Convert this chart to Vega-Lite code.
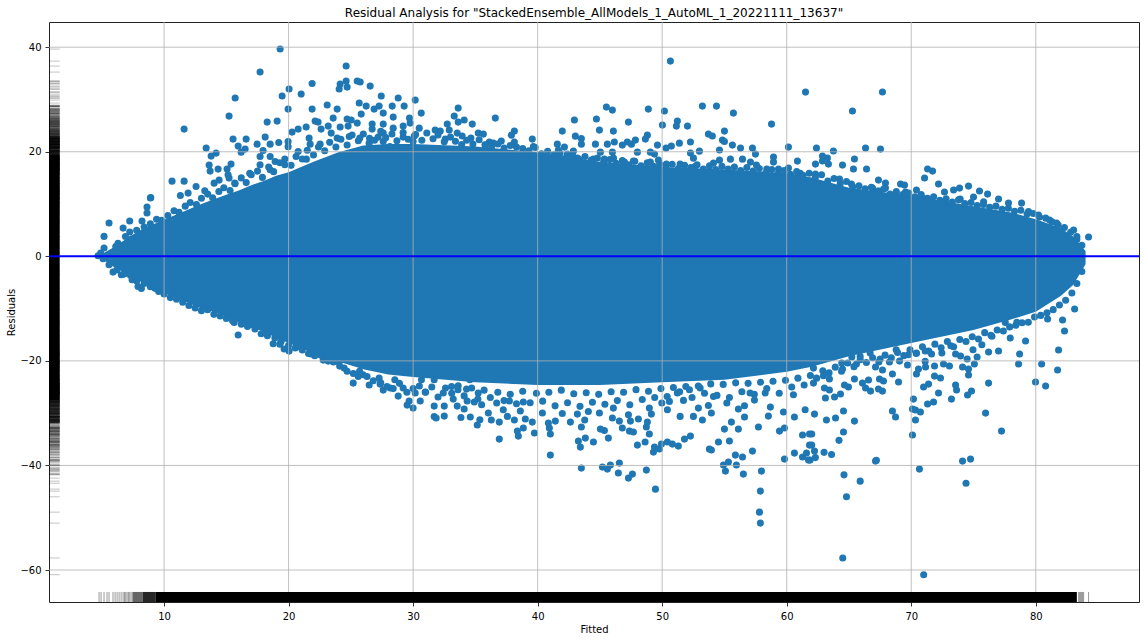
{"$schema":"https://vega.github.io/schema/vega-lite/v6.json","autosize":"none","padding":{"left":49,"top":22,"right":5,"bottom":38},"width":1090,"height":580,"background":"white",
"title":{"text":"Residual Analysis for \"StackedEnsemble_AllModels_1_AutoML_1_20221111_13637\"","font":"DejaVu Sans","fontSize":12,"fontWeight":"normal","color":"black","anchor":"middle","offset":2},
"config":{"view":{"stroke":"#222222","strokeWidth":1},"axis":{"labelFont":"DejaVu Sans","titleFont":"DejaVu Sans","labelFontSize":10,"titleFontSize":10,"titleFontWeight":"normal","labelColor":"black","titleColor":"black","tickColor":"black","tickSize":4,"tickWidth":0.8,"grid":false,"domain":false}},
"datasets":{
"band":[{"x":4.9,"t":0.3,"b":-0.3},{"x":6,"t":1.8,"b":-2.1},{"x":7,"t":3.4,"b":-3.4},{"x":8,"t":4.9,"b":-4.7},{"x":9,"t":6,"b":-5.8},{"x":10,"t":7,"b":-7},{"x":11,"t":8,"b":-8},{"x":12,"t":9,"b":-9},{"x":13,"t":10,"b":-10},{"x":14,"t":10.9,"b":-10.6},{"x":15,"t":11.8,"b":-11.6},{"x":16,"t":12.6,"b":-12.6},{"x":17,"t":13.6,"b":-13.6},{"x":18,"t":14.4,"b":-14.4},{"x":19,"t":15.4,"b":-15.6},{"x":20,"t":16.1,"b":-16.6},{"x":22,"t":18.1,"b":-18.6},{"x":24,"t":19.9,"b":-20.1},{"x":26,"t":21.2,"b":-21.6},{"x":28,"t":21.5,"b":-22.6},{"x":30,"t":21.5,"b":-23.1},{"x":35,"t":21,"b":-24.1},{"x":40,"t":19.9,"b":-24.6},{"x":45,"t":18.1,"b":-24.6},{"x":50,"t":17.1,"b":-24.1},{"x":55,"t":16.6,"b":-23.6},{"x":60,"t":15.9,"b":-22.1},{"x":62,"t":15.1,"b":-21.1},{"x":65,"t":13.1,"b":-19.1},{"x":70,"t":11.6,"b":-16.6},{"x":75,"t":9.6,"b":-14.1},{"x":78,"t":8.4,"b":-12.1},{"x":80,"t":7.1,"b":-10.6},{"x":82,"t":5.4,"b":-7.6},{"x":83,"t":3.8,"b":-5.5},{"x":84,"t":1,"b":-1.5}],
"rugx":[{"x":4.78},{"x":4.94},{"x":5.18},{"x":5.42},{"x":5.58},{"x":5.9},{"x":6.07},{"x":6.23},{"x":6.39},{"x":6.55},{"x":6.71},{"x":6.82},{"x":6.92},{"x":7.03},{"x":7.14},{"x":7.24},{"x":7.35},{"x":7.46},{"x":83.44},{"x":83.52},{"x":83.6},{"x":83.68},{"x":83.76},{"x":83.84},{"x":84.24}],
"pts":[
{"x":64.5,"y":-57.7},{"x":71,"y":-60.9},{"x":64.8,"y":-46},{"x":64.6,"y":-41.8},{"x":65.9,"y":-43},{"x":67.2,"y":-39},{"x":74.4,"y":-43.4},{"x":63,"y":-37.5},{"x":62.3,"y":-38.5},{"x":63.6,"y":-37.9},{"x":64.2,"y":-35.2},
{"x":19.32,"y":39.64},{"x":17.71,"y":35.24},{"x":15.71,"y":30.27},{"x":15.22,"y":26.82},{"x":11.61,"y":24.33},{"x":13.38,"y":20.7},{"x":14.18,"y":19.74},{"x":13.78,"y":19.17},{"x":13.62,"y":17.45},{"x":14.34,"y":16.68},{"x":13.7,"y":16.3},{"x":15.38,"y":17.64},{"x":15.06,"y":16.68},{"x":15.22,"y":14.96},{"x":14.42,"y":14.58},{"x":14.02,"y":14},{"x":10.64,"y":14.38},{"x":11.61,"y":14.38},{"x":12.57,"y":13.36},{"x":11.93,"y":12.09},{"x":11.31,"y":11.64},{"x":15.54,"y":22.42},{"x":15.95,"y":21.08},{"x":16.59,"y":22.42},{"x":16.51,"y":20.51},{"x":16.19,"y":19.93},{"x":17.47,"y":21.46},{"x":18.12,"y":22.8},{"x":18.52,"y":21.46},{"x":19.21,"y":21.78},{"x":18.28,"y":25.67},{"x":19.08,"y":25.86},{"x":19.48,"y":30.65},{"x":20.04,"y":31.99},{"x":21.01,"y":31.03},{"x":19.96,"y":28.16},{"x":21.89,"y":28.16},{"x":21.89,"y":33.07},{"x":24.62,"y":36.39},{"x":24.14,"y":32.94},{"x":24.62,"y":33.52},{"x":24.06,"y":31.99},{"x":24.7,"y":32.37},{"x":25.51,"y":33.52},{"x":25.75,"y":33.33},{"x":26.55,"y":32.56},{"x":25.67,"y":29.31},{"x":26.23,"y":28.73},{"x":25.83,"y":27.2},{"x":27.44,"y":30.65},{"x":28.8,"y":30.27},{"x":28.32,"y":28.73},{"x":29.28,"y":28.73},{"x":30.17,"y":29.88},{"x":30.65,"y":27.39},{"x":27.27,"y":28.73},{"x":26.87,"y":28.16},{"x":27.6,"y":27.39},{"x":28.4,"y":26.63},{"x":29.71,"y":26.44},{"x":23.1,"y":28.93},{"x":23.9,"y":28.16},{"x":23.58,"y":26.44},{"x":22.13,"y":25.86},{"x":22.37,"y":25.67},{"x":24.7,"y":26.25},{"x":25.03,"y":26.06},{"x":25.51,"y":25.48},{"x":23.18,"y":24.91},{"x":22.61,"y":24.33},{"x":21.41,"y":24.72},{"x":20.28,"y":23.76},{"x":20.77,"y":24.33},{"x":24.14,"y":24.72},{"x":24.78,"y":24.91},{"x":26.71,"y":25.29},{"x":26.71,"y":24.33},{"x":27.6,"y":25.29},{"x":28.4,"y":24.52},{"x":29.2,"y":24.91},{"x":29.76,"y":25.48},{"x":30.49,"y":24.52},{"x":33.62,"y":28.35},{"x":33.3,"y":26.82},{"x":33.62,"y":25.67},{"x":34.1,"y":26.06},{"x":34.75,"y":25.29},{"x":32.74,"y":25.29},{"x":32.9,"y":24.14},{"x":32.18,"y":23.95},{"x":31.77,"y":24.14},{"x":33.54,"y":23.57},{"x":33.94,"y":23},{"x":34.64,"y":22.61},{"x":35.23,"y":23.57},{"x":27.19,"y":22.8},{"x":27.6,"y":23.57},{"x":29.2,"y":22.8},{"x":30.09,"y":23},{"x":30,"y":21.97},{"x":32.58,"y":22.42},{"x":19.96,"y":21.97},{"x":19.96,"y":20.98},{"x":21.65,"y":22.61},{"x":21.73,"y":21.46},{"x":22.53,"y":21.46},{"x":23.42,"y":23.57},{"x":23.9,"y":22.61},{"x":24.87,"y":22.93},{"x":25.72,"y":22.61},{"x":26.47,"y":21.65},{"x":27.6,"y":21.97},{"x":28.13,"y":21},{"x":29.07,"y":20.7},{"x":20.77,"y":20.06},{"x":17.95,"y":20.25},{"x":17.71,"y":19.1},{"x":18.52,"y":19.1},{"x":18.92,"y":18.15},{"x":17.71,"y":17.51},{"x":18.52,"y":16.55},{"x":19.7,"y":17.51},{"x":21.43,"y":18.59},{"x":15.14,"y":15.6},{"x":13.27,"y":12.53},{"x":15.68,"y":14},{"x":16.88,"y":15.9},{"x":8.93,"y":11.26},
{"x":50.66,"y":37.34},{"x":61.51,"y":31.41},{"x":36.6,"y":26.44},{"x":45.52,"y":28.54},{"x":46,"y":27.97},{"x":48.89,"y":28.16},{"x":50.18,"y":27.78},{"x":53.23,"y":28.73},{"x":54.36,"y":28.73},{"x":55.72,"y":27.39},{"x":58.78,"y":25.29},{"x":42.95,"y":26.06},{"x":44.72,"y":26.25},{"x":47.29,"y":25.67},{"x":51.22,"y":25.86},{"x":51.14,"y":24.91},{"x":50.02,"y":25.1},{"x":52.03,"y":24.91},{"x":41.98,"y":23.95},{"x":44.96,"y":24.14},{"x":46.08,"y":23.95},{"x":38.13,"y":23.95},{"x":37.89,"y":23.18},{"x":35.64,"y":23.38},{"x":48.81,"y":23.18},{"x":48.65,"y":22.42},{"x":53.71,"y":23.38},{"x":54.03,"y":23},{"x":55,"y":23.95},{"x":54.84,"y":22.23},{"x":55,"y":21.97},{"x":43.03,"y":22.99},{"x":43.51,"y":22.55},{"x":43.51,"y":21.46},{"x":39.57,"y":22.42},{"x":37.08,"y":22.04},{"x":36.12,"y":21.85},{"x":36.44,"y":21.65},{"x":38.13,"y":21.85},{"x":41.58,"y":21.46},{"x":42.15,"y":20.89},{"x":44.64,"y":21.46},{"x":45.6,"y":21.46},{"x":46.16,"y":21.85},{"x":46.8,"y":21.27},{"x":47.2,"y":21.85},{"x":47.53,"y":21.46},{"x":47.85,"y":22.23},{"x":49.62,"y":21.27},{"x":50.74,"y":21.08},{"x":51.38,"y":21.65},{"x":52.27,"y":21.85},{"x":55.64,"y":21.27},{"x":56.29,"y":20.7},{"x":57.25,"y":20.7},{"x":60.14,"y":20.89},{"x":54.6,"y":20.32},{"x":52.99,"y":20.12},{"x":50.31,"y":20.7},{"x":48.01,"y":19.93},{"x":45.04,"y":19.93},{"x":42.87,"y":20.12},{"x":42.39,"y":19.55},{"x":41.66,"y":20.32},{"x":46,"y":19.93},{"x":49.05,"y":19.93},{"x":49.38,"y":19.55},{"x":52.27,"y":19.74},{"x":57.49,"y":19.55},{"x":58.94,"y":18.98},{"x":58.94,"y":18.02},{"x":60.86,"y":18.21},{"x":43.19,"y":18.78},{"x":44.48,"y":18.59},{"x":45.36,"y":18.59},{"x":46.09,"y":18.78},{"x":49.7,"y":18.4},{"x":52.51,"y":18.78},{"x":54.6,"y":18.4},{"x":55.48,"y":18.59},{"x":56.45,"y":18.59},{"x":47.69,"y":18.21},{"x":46.97,"y":18.02},{"x":49.05,"y":18.02},{"x":50.34,"y":17.64},{"x":51.44,"y":17.64},{"x":54.12,"y":17.83},{"x":57.09,"y":18.02},{"x":57.57,"y":17.45},{"x":60.14,"y":16.87},{"x":59.34,"y":16.68},{"x":58.4,"y":16.68},{"x":42.39,"y":17.83},{"x":45.01,"y":17.06},{"x":38.18,"y":18.78},{"x":39.66,"y":21},{"x":35.77,"y":21.34},{"x":52.64,"y":17.19},{"x":61.08,"y":15.9},
{"x":67.69,"y":31.42},{"x":65.28,"y":27.78},{"x":62.39,"y":20.71},{"x":63.75,"y":20.13},{"x":66.33,"y":20.71},{"x":67.53,"y":20.51},{"x":62.87,"y":19.17},{"x":63.27,"y":18.79},{"x":65.44,"y":18.6},{"x":62.31,"y":17.64},{"x":62.87,"y":18.22},{"x":63.35,"y":17.64},{"x":64.48,"y":17.45},{"x":65.36,"y":16.69},{"x":66.41,"y":16.69},{"x":71.31,"y":16.69},{"x":71.71,"y":16.3},{"x":71.07,"y":14.97},{"x":62.31,"y":15.73},{"x":64.24,"y":14.77},{"x":65.2,"y":13.82},{"x":67.37,"y":14.58},{"x":67.93,"y":14.01},{"x":66.89,"y":13.05},{"x":67.45,"y":12.48},{"x":67.93,"y":13.05},{"x":69.14,"y":13.82},{"x":69.46,"y":13.62},{"x":72.19,"y":13.82},{"x":74.6,"y":13.43},{"x":73.88,"y":13.05},{"x":73.4,"y":12.67},{"x":72.67,"y":12.29},{"x":75.48,"y":12.48},{"x":76.13,"y":11.9},{"x":75,"y":11.33},{"x":70.42,"y":12.67},{"x":69.54,"y":12.29},{"x":70.9,"y":11.14},{"x":65.92,"y":12.09},{"x":65.12,"y":11.9},{"x":77.01,"y":10.95},{"x":78.86,"y":10.18},{"x":77.81,"y":10.18},{"x":80.22,"y":7.89},{"x":81.11,"y":6.93},{"x":81.67,"y":6.36},{"x":83.04,"y":5.02},{"x":84.24,"y":3.68},{"x":79.42,"y":8.59},{"x":71.79,"y":10.18},{"x":72.73,"y":10.31},{"x":73.93,"y":10.95},{"x":75.81,"y":10.44},{"x":83.3,"y":3.8},
{"x":15.95,"y":-15.06},{"x":15.63,"y":-12.64},{"x":16.99,"y":-13.02},{"x":18.28,"y":-14.36},{"x":18.76,"y":-16.72},{"x":19.64,"y":-17.74},{"x":20.04,"y":-18.13},{"x":20.53,"y":-17.55},{"x":19.4,"y":-16.28},{"x":21.81,"y":-18.7},{"x":22.78,"y":-19.85},{"x":23.18,"y":-20.04},{"x":24.06,"y":-20.23},{"x":24.46,"y":-21.38},{"x":25.19,"y":-24.25},{"x":25.59,"y":-22.97},{"x":26.47,"y":-24.63},{"x":25.99,"y":-22.65},{"x":27.35,"y":-24.44},{"x":27.6,"y":-25.59},{"x":28.16,"y":-25.2},{"x":28.8,"y":-26.74},{"x":29.2,"y":-25.2},{"x":29.68,"y":-27.69},{"x":29.52,"y":-28.46},{"x":30,"y":-29.03},{"x":30.57,"y":-27.69},{"x":30.17,"y":-26.16},{"x":30.97,"y":-25.97},{"x":31.69,"y":-28.65},{"x":31.69,"y":-30.63},{"x":31.85,"y":-30.94},{"x":32.5,"y":-30.56},{"x":32.5,"y":-28.65},{"x":32.42,"y":-26.16},{"x":33.22,"y":-27.31},{"x":33.54,"y":-28.65},{"x":34.1,"y":-29.22},{"x":34.34,"y":-27.69},{"x":34.91,"y":-27.88},{"x":33.84,"y":-30.82},{"x":34.59,"y":-30.75},{"x":35.15,"y":-32.28},{"x":35.36,"y":-31.26},{"x":35.23,"y":-26.16},{"x":34.29,"y":-25.4},{"x":33.62,"y":-24.76},{"x":33.09,"y":-24.89},{"x":31.69,"y":-23.61},{"x":30.67,"y":-23.61},{"x":28.53,"y":-23.61},{"x":27.27,"y":-23.29},{"x":34.56,"y":-23.61},
{"x":36.92,"y":-34.96},{"x":38.45,"y":-34.39},{"x":38.37,"y":-33.43},{"x":38.85,"y":-32.85},{"x":39.74,"y":-33.81},{"x":39.57,"y":-31.71},{"x":39.01,"y":-31.13},{"x":36.92,"y":-31.71},{"x":36.28,"y":-31.32},{"x":38.13,"y":-31.32},{"x":37.57,"y":-30.62},{"x":36.04,"y":-29.98},{"x":37.24,"y":-29.35},{"x":36.71,"y":-28.07},{"x":37.73,"y":-27.69},{"x":38.61,"y":-29.6},{"x":38.85,"y":-27.88},{"x":35.5,"y":-28.39},{"x":41.02,"y":-38.02},{"x":41.02,"y":-34},{"x":40.94,"y":-32.85},{"x":40.86,"y":-31.9},{"x":41.42,"y":-31.52},{"x":40.38,"y":-29.98},{"x":42.63,"y":-31.71},{"x":41.98,"y":-30.05},{"x":43.19,"y":-30.18},{"x":43.51,"y":-32.66},{"x":43.78,"y":-31.32},{"x":44.07,"y":-29.67},{"x":43.27,"y":-35.34},{"x":43.43,"y":-36.49},{"x":43.83,"y":-34.77},{"x":44.48,"y":-35.53},{"x":45.04,"y":-33.05},{"x":45.36,"y":-33.3},{"x":45.68,"y":-34.77},{"x":43.51,"y":-40.51},{"x":45.2,"y":-40.32},{"x":45.6,"y":-40.7},{"x":45.84,"y":-39.93},{"x":46.56,"y":-39.55},{"x":46.48,"y":-41.46},{"x":47.29,"y":-42.42},{"x":47.61,"y":-41.66},{"x":48.73,"y":-40.89},{"x":49.46,"y":-44.53},{"x":48.01,"y":-36.11},{"x":48.63,"y":-35.53},{"x":49.3,"y":-37.45},{"x":49.38,"y":-36.49},{"x":49.78,"y":-36.87},{"x":49.94,"y":-35.92},{"x":50.42,"y":-35.53},{"x":50.82,"y":-35.92},{"x":51.3,"y":-36.3},{"x":51.79,"y":-34.96},{"x":52.27,"y":-34.39},{"x":48.97,"y":-34},{"x":47.37,"y":-33.43},{"x":47.69,"y":-33.62},{"x":46.8,"y":-32.85},{"x":48.73,"y":-32.66},{"x":48.81,"y":-31.71},{"x":48.09,"y":-31.13},{"x":47.45,"y":-31.52},{"x":46.56,"y":-31.52},{"x":46,"y":-30.94},{"x":49.13,"y":-30.18},{"x":48.97,"y":-29.03},{"x":47.29,"y":-30.3},{"x":46.08,"y":-29.03},{"x":44.96,"y":-29.98},{"x":49.97,"y":-28.07},{"x":50.42,"y":-29.35},{"x":51.44,"y":-30.62},{"x":52.51,"y":-30.62},{"x":53.23,"y":-31.32},{"x":52.91,"y":-29.03},{"x":53.95,"y":-29.98},{"x":53.71,"y":-28.52},{"x":51.71,"y":-27.56},{"x":51.22,"y":-26.16},{"x":52.19,"y":-25.52},{"x":50.58,"y":-27.75},{"x":55.56,"y":-31.71},{"x":55,"y":-33.05},{"x":56.12,"y":-33.05},{"x":57.73,"y":-32.66},{"x":56.61,"y":-30.75},{"x":56.12,"y":-29.22},{"x":56.61,"y":-28.58},{"x":58.53,"y":-30.56},{"x":59.42,"y":-33.43},{"x":59.82,"y":-32.85},{"x":60.62,"y":-30.75},{"x":61.27,"y":-34.19},{"x":61.83,"y":-34},{"x":61.83,"y":-36.11},{"x":53.79,"y":-36.87},{"x":53.95,"y":-37.06},{"x":54.52,"y":-35.53},{"x":55.4,"y":-35.34},{"x":57.25,"y":-37.26},{"x":55.88,"y":-38.02},{"x":56.45,"y":-38.4},{"x":55.32,"y":-39.36},{"x":54.92,"y":-39.93},{"x":55.96,"y":-39.93},{"x":55.08,"y":-41.08},{"x":56.52,"y":-41.66},{"x":57.97,"y":-41.08},{"x":57.89,"y":-44.91},{"x":57.81,"y":-48.93},{"x":57.89,"y":-51.03},{"x":59.82,"y":-38.79},{"x":60.62,"y":-37.64},{"x":61.27,"y":-38.4},{"x":61.59,"y":-37.64},{"x":61.75,"y":-38.98},{"x":57.41,"y":-27.5},{"x":58.69,"y":-28.84},{"x":59.74,"y":-29.79},{"x":61.48,"y":-29.35},{"x":55.19,"y":-28.07},{"x":54.12,"y":-26.8},{"x":53.05,"y":-25.2},{"x":57.06,"y":-26.16},{"x":58.27,"y":-26.16},{"x":60.54,"y":-26.48},
{"x":67.13,"y":-39.17},{"x":70.66,"y":-40.7},{"x":70.1,"y":-34.19},{"x":64.56,"y":-33.62},{"x":62.01,"y":-34},{"x":62.01,"y":-36.11},{"x":62.23,"y":-37.26},{"x":61.88,"y":-38.98},{"x":74.12,"y":-39.17},{"x":74.76,"y":-38.79},{"x":77.25,"y":-33.43},{"x":75.97,"y":-29.99},{"x":62.23,"y":-30.18},{"x":63.19,"y":-31.32},{"x":63.92,"y":-30.94},{"x":64.56,"y":-29.6},{"x":65.44,"y":-31.52},{"x":68.49,"y":-29.6},{"x":68.74,"y":-30.75},{"x":70.34,"y":-31.32},{"x":70.1,"y":-29.22},{"x":70.34,"y":-29.41},{"x":70.74,"y":-29.79},{"x":70.18,"y":-27.31},{"x":71.31,"y":-28.26},{"x":71.79,"y":-27.88},{"x":73.23,"y":-27.31},{"x":74.52,"y":-26.54},{"x":74.84,"y":-25.78},{"x":76.21,"y":-24.25},{"x":79.98,"y":-24.05},{"x":80.79,"y":-24.82},{"x":81.75,"y":-21.76},{"x":81.83,"y":-17.93},{"x":80.47,"y":-20.61},{"x":78.62,"y":-20.61},{"x":78.7,"y":-18.7},{"x":77.01,"y":-18.12},{"x":76.21,"y":-18.31},{"x":79.18,"y":-16.21},{"x":82.31,"y":-14.3},{"x":80.95,"y":-12},{"x":82.15,"y":-12.19},{"x":83.12,"y":-10.09},{"x":63.11,"y":-27.11},{"x":63.84,"y":-26.92},{"x":64.32,"y":-26.35},{"x":63.03,"y":-25.2},{"x":63.43,"y":-25.58},{"x":64.64,"y":-24.63},{"x":64.96,"y":-25.01},{"x":62.15,"y":-24.25},{"x":63.43,"y":-23.48},{"x":62.95,"y":-22.84},{"x":65.44,"y":-23.48},{"x":66.08,"y":-24.25},{"x":66.57,"y":-23.67},{"x":66.33,"y":-25.2},{"x":66.73,"y":-25.78},{"x":67.69,"y":-25.78},{"x":67.37,"y":-25.39},{"x":67.45,"y":-23.48},{"x":67.77,"y":-23.86},{"x":68.98,"y":-24.05},{"x":68.49,"y":-22.52},{"x":67.69,"y":-21.76},{"x":67.13,"y":-21.18},{"x":69.7,"y":-20.8},{"x":70.42,"y":-22.52},{"x":70.58,"y":-21.57},{"x":71.15,"y":-21.18},{"x":71.87,"y":-20.99},{"x":71.87,"y":-22.91},{"x":72.35,"y":-23.29},{"x":70.99,"y":-25.01},{"x":71.39,"y":-24.44},{"x":72.19,"y":-26.16},{"x":73.56,"y":-24.63},{"x":73.64,"y":-25.58},{"x":74.6,"y":-22.71},{"x":74.6,"y":-21.57},{"x":74.12,"y":-21.18},{"x":73.07,"y":-20.99},{"x":72.59,"y":-20.61},{"x":75.07,"y":-20.61},{"x":74.49,"y":-19.65},{"x":75.29,"y":-19.27},{"x":73.56,"y":-18.7},{"x":73.96,"y":-19.08},{"x":64.48,"y":-21.57},{"x":62.15,"y":-21.38},{"x":65.6,"y":-20.61},{"x":69.06,"y":-20.04},{"x":68.25,"y":-20.23},{"x":71.12,"y":-20.1},{"x":71.63,"y":-18.7},{"x":71.12,"y":-18.12},{"x":70.42,"y":-18.5},{"x":69.78,"y":-18.82},{"x":68.79,"y":-17.87},{"x":72.46,"y":-18.5},{"x":74.96,"y":-17.87},{"x":75.67,"y":-16.91},{"x":77.95,"y":-15.63},{"x":76.48,"y":-15.3},{"x":78.48,"y":-12.64},{"x":77.55,"y":-12.64},{"x":65.23,"y":-19.27},{"x":66.7,"y":-18.5},{"x":62.9,"y":-19.78},{"x":64.42,"y":-20.42},{"x":65.9,"y":-19.14},{"x":67.5,"y":-19.65},{"x":73.18,"y":-17.1},
{"x":8.9,"y":11.14},{"x":8.63,"y":9.42},{"x":8.63,"y":8.27},{"x":5.58,"y":6.36},{"x":5.18,"y":3.81},{"x":6.71,"y":5.4},{"x":7.24,"y":6.74},{"x":7.24,"y":4.64},{"x":8.23,"y":6.74},{"x":6.12,"y":1.89},{"x":5.18,"y":1.58},{"x":4.91,"y":0.62},{"x":4.7,"y":0.11},{"x":5.1,"y":-0.47},{"x":5.58,"y":-1.61},{"x":5.9,"y":-3.02},{"x":6.57,"y":-3.53},{"x":7.43,"y":-4.48},{"x":7.91,"y":-5.76},{"x":8.18,"y":-6.14},{"x":9.25,"y":-6.08},{"x":9.57,"y":-6.72},
{"x":6.3,"y":2.5},{"x":6.9,"y":3.8},{"x":7.4,"y":3.3},{"x":7.8,"y":5},{"x":8.4,"y":5.6},{"x":8.9,"y":6.2},{"x":9.4,"y":7.1},{"x":9.8,"y":6.9},{"x":10.3,"y":7.8},{"x":10.8,"y":8.7},{"x":11.2,"y":8.4},{"x":11.7,"y":9.6},{"x":12.1,"y":10.3},{"x":12.6,"y":9.9},{"x":13,"y":11.1},{"x":13.5,"y":11.9},{"x":13.9,"y":11.2},{"x":14.4,"y":12.4},{"x":14.8,"y":13.1},{"x":15.3,"y":12.6},{"x":15.7,"y":13.9},{"x":16.2,"y":15},{"x":16.6,"y":14.1},{"x":17,"y":15.6},{"x":17.5,"y":16.3},{"x":17.9,"y":15.1},{"x":18.4,"y":17.1},{"x":18.8,"y":16.2},{"x":19.3,"y":17.9},{"x":19.7,"y":18.6},{"x":20.2,"y":17.4},{"x":20.6,"y":19.1},{"x":21.1,"y":18.6},{"x":21.5,"y":20.3},{"x":22,"y":19.4},{"x":22.4,"y":20.9},{"x":22.9,"y":20.2},{"x":23.3,"y":21.8},{"x":23.8,"y":20.9},{"x":24.2,"y":22.4},{"x":24.7,"y":21.3},{"x":25.1,"y":23.2},{"x":25.6,"y":22.1},{"x":26,"y":23.4},{"x":26.5,"y":22.6},{"x":26.9,"y":22.2},{"x":27.4,"y":23.9},{"x":27.8,"y":22.7},{"x":28.3,"y":23.4},{"x":28.7,"y":22.1},{"x":29.2,"y":23.7},{"x":29.6,"y":22.4},{"x":30.2,"y":23.3},{"x":30.7,"y":22.2},{"x":31.1,"y":23.6},{"x":31.6,"y":22.5},{"x":32,"y":23.2},{"x":32.5,"y":21.9},{"x":33,"y":22.8},{"x":33.4,"y":22},{"x":33.9,"y":21.4},{"x":34.3,"y":22.2},{"x":34.8,"y":21.5},{"x":35.3,"y":22.3},{"x":35.8,"y":21.3},{"x":36.3,"y":20.9},{"x":36.8,"y":21.5},{"x":37.3,"y":20.7},{"x":37.8,"y":21.2},{"x":38.3,"y":20.9},{"x":38.8,"y":20.6},{"x":39.3,"y":20.2},{"x":39.8,"y":20.8},{"x":40.3,"y":19.6},{"x":40.8,"y":20.1},{"x":41.3,"y":19.4},{"x":41.8,"y":19.7},{"x":42.3,"y":18.9},{"x":42.8,"y":19.3},{"x":43.3,"y":18.6},{"x":43.8,"y":19.1},{"x":44.3,"y":18.4},{"x":44.8,"y":18.8},{"x":45.3,"y":18.1},{"x":45.8,"y":18.5},{"x":46.3,"y":17.8},{"x":46.8,"y":18.3},{"x":47.3,"y":17.5},{"x":47.8,"y":18.2},{"x":48.3,"y":17.3},{"x":48.8,"y":17.9},{"x":49.3,"y":17.2},{"x":49.8,"y":17.6},{"x":50.3,"y":16.9},{"x":50.8,"y":17.6},{"x":51.3,"y":16.8},{"x":51.8,"y":17.4},{"x":52.3,"y":17},{"x":52.8,"y":17.5},{"x":53.3,"y":16.7},{"x":53.8,"y":17.3},{"x":54.3,"y":16.6},{"x":54.8,"y":17.2},{"x":55.3,"y":16.7},{"x":55.8,"y":17.1},{"x":56.3,"y":16.4},{"x":56.8,"y":17},{"x":57.3,"y":16.3},{"x":57.8,"y":16.8},{"x":58.3,"y":15.9},{"x":58.8,"y":16.6},{"x":59.3,"y":15.8},{"x":59.8,"y":16.4},{"x":60.3,"y":15.7},{"x":60.8,"y":16.2},{"x":61.3,"y":15.5},{"x":61.8,"y":15.9},{"x":62.3,"y":15.1},{"x":62.8,"y":15.6},{"x":63.3,"y":14.4},{"x":63.8,"y":14.9},{"x":64.3,"y":13.9},{"x":64.8,"y":14.3},{"x":65.3,"y":13.3},{"x":65.8,"y":13.5},{"x":66.3,"y":12.9},{"x":66.8,"y":13.2},{"x":67.3,"y":12.5},{"x":67.8,"y":12.9},{"x":68.3,"y":11.9},{"x":68.8,"y":12.4},{"x":69.3,"y":11.8},{"x":69.8,"y":12.1},{"x":70.3,"y":11.4},{"x":70.8,"y":11.8},{"x":71.3,"y":11.1},{"x":71.8,"y":11.4},{"x":72.3,"y":10.7},{"x":72.8,"y":11},{"x":73.3,"y":10.4},{"x":73.8,"y":10.8},{"x":74.3,"y":10.1},{"x":74.8,"y":10.3},{"x":75.3,"y":9.7},{"x":75.8,"y":9.9},{"x":76.3,"y":9.4},{"x":76.8,"y":9.6},{"x":77.3,"y":9},{"x":77.8,"y":9.2},{"x":78.3,"y":8.6},{"x":78.8,"y":8.8},{"x":79.3,"y":8.1},{"x":79.8,"y":8.2},{"x":80.3,"y":7.5},{"x":80.8,"y":7.3},{"x":81.3,"y":6.6},{"x":81.8,"y":6},{"x":82.3,"y":5.5},{"x":82.8,"y":4.6},{"x":83.3,"y":3.2},{"x":83.7,"y":2.1},
{"x":6.2,"y":-2.6},{"x":6.8,"y":-3.4},{"x":7.3,"y":-3.6},{"x":7.8,"y":-4.7},{"x":8.4,"y":-5.2},{"x":8.9,"y":-5.8},{"x":9.4,"y":-6.2},{"x":10,"y":-7.2},{"x":10.5,"y":-7.9},{"x":11,"y":-8.2},{"x":11.5,"y":-8.8},{"x":12,"y":-9.4},{"x":12.5,"y":-9.9},{"x":13,"y":-10.4},{"x":13.5,"y":-10.2},{"x":14,"y":-11.1},{"x":14.5,"y":-11.4},{"x":15,"y":-11.9},{"x":15.5,"y":-12.3},{"x":16.2,"y":-13},{"x":16.7,"y":-13.4},{"x":17.3,"y":-13.9},{"x":17.8,"y":-14.8},{"x":18.3,"y":-15.2},{"x":18.9,"y":-15.6},{"x":19.3,"y":-16.8},{"x":20,"y":-17},{"x":20.6,"y":-17.4},{"x":21.1,"y":-17.9},{"x":21.6,"y":-18.6},{"x":22.1,"y":-19},{"x":22.6,"y":-18.9},{"x":23.1,"y":-19.8},{"x":23.6,"y":-20.2},{"x":24.1,"y":-21},{"x":24.7,"y":-22},{"x":25.2,"y":-22.4},{"x":25.7,"y":-22},{"x":26.3,"y":-23},{"x":26.8,"y":-23.8},{"x":27.4,"y":-24.2},{"x":27.9,"y":-24.9},{"x":28.4,"y":-25.3},{"x":28.9,"y":-24.3},{"x":29.5,"y":-26},{"x":30,"y":-25.3},{"x":30.5,"y":-24.8},{"x":31,"y":-26},{"x":31.5,"y":-25},{"x":32,"y":-26.9},{"x":32.6,"y":-25.2},{"x":33.1,"y":-26.2},{"x":33.6,"y":-25.5},{"x":34.1,"y":-26.7},{"x":34.7,"y":-25.2},{"x":35.2,"y":-27.3},{"x":35.7,"y":-25.6},{"x":36.2,"y":-27},{"x":36.8,"y":-26},{"x":37.3,"y":-27.6},{"x":37.8,"y":-26.4},{"x":38.3,"y":-28.2},{"x":38.8,"y":-25.8},{"x":39.4,"y":-28},{"x":39.9,"y":-26.2},{"x":40.4,"y":-27.7},{"x":40.9,"y":-26},{"x":41.4,"y":-28.6},{"x":41.9,"y":-25.6},{"x":42.4,"y":-28},{"x":42.9,"y":-26.3},{"x":43.4,"y":-28.7},{"x":43.9,"y":-26.1},{"x":44.4,"y":-27.9},{"x":44.9,"y":-26.4},{"x":45.4,"y":-28.3},{"x":45.9,"y":-25.9},{"x":46.4,"y":-27.6},{"x":46.9,"y":-26},{"x":47.4,"y":-28.4},{"x":47.9,"y":-25.5},{"x":48.4,"y":-27.4},{"x":48.9,"y":-25.8},{"x":49.4,"y":-27},{"x":49.9,"y":-25.3},{"x":50.4,"y":-26.8},{"x":50.9,"y":-25.1},{"x":51.4,"y":-25.9},{"x":51.9,"y":-24.9},{"x":52.4,"y":-27},{"x":52.9,"y":-24.8},{"x":53.4,"y":-26.2},{"x":53.9,"y":-24.4},{"x":54.4,"y":-26.6},{"x":54.9,"y":-24.5},{"x":55.4,"y":-27},{"x":55.9,"y":-24.2},{"x":56.4,"y":-25.9},{"x":56.9,"y":-24.3},{"x":57.4,"y":-26.4},{"x":57.9,"y":-24.1},{"x":58.4,"y":-25.3},{"x":58.9,"y":-23.9},{"x":59.4,"y":-26.2},{"x":59.9,"y":-23.7},{"x":60.4,"y":-25},{"x":60.9,"y":-23.3},{"x":61.4,"y":-24.6},{"x":61.9,"y":-22.8},{"x":62.4,"y":-23.3},{"x":62.9,"y":-21.9},{"x":63.4,"y":-22.3},{"x":63.9,"y":-21.2},{"x":64.4,"y":-22},{"x":64.9,"y":-20.4},{"x":65.4,"y":-21.1},{"x":65.9,"y":-19.8},{"x":66.4,"y":-20.3},{"x":66.9,"y":-19.4},{"x":67.4,"y":-20.2},{"x":67.9,"y":-18.9},{"x":68.4,"y":-19.4},{"x":68.9,"y":-18.4},{"x":69.4,"y":-19},{"x":69.9,"y":-17.9},{"x":70.4,"y":-18.6},{"x":70.9,"y":-17.3},{"x":71.4,"y":-18.1},{"x":71.9,"y":-16.8},{"x":72.4,"y":-17.5},{"x":72.9,"y":-16.3},{"x":73.4,"y":-17.3},{"x":73.9,"y":-15.9},{"x":74.4,"y":-16.3},{"x":74.9,"y":-15.4},{"x":75.4,"y":-15.8},{"x":75.9,"y":-14.6},{"x":76.4,"y":-15.1},{"x":76.9,"y":-14.1},{"x":77.4,"y":-14.3},{"x":77.9,"y":-13.5},{"x":78.4,"y":-13.2},{"x":78.9,"y":-12.7},{"x":79.4,"y":-12.6},{"x":79.9,"y":-11.6},{"x":80.4,"y":-11.3},{"x":80.9,"y":-10.8},{"x":81.4,"y":-10.2},{"x":81.9,"y":-9.3},{"x":82.4,"y":-8.4},{"x":82.9,"y":-7},{"x":83.3,"y":-5.2},{"x":83.7,"y":-2.9}
]},
"layer":[
{"data":{"name":"band"},"mark":{"type":"area","color":"#1f77b4"},"encoding":{
"x":{"field":"x","type":"quantitative","title":"Fitted","scale":{"domain":[0.76,88.29],"nice":false,"zero":false},"axis":{"values":[10,20,30,40,50,60,70,80],"format":"d","title":"Fitted","titlePadding":3,"labelPadding":5}},
"y":{"field":"t","type":"quantitative","title":"Residuals","scale":{"domain":[-66.12,44.82],"nice":false,"zero":false},"axis":{"values":[-60,-40,-20,0,20,40],"format":"d","title":"Residuals","titlePadding":3,"labelPadding":4}},
"y2":{"field":"b"}}},
{"data":{"name":"pts"},"mark":{"type":"point","filled":true,"opacity":1,"color":"#1f77b4","size":50,"shape":"circle"},"encoding":{"x":{"field":"x","type":"quantitative"},"y":{"field":"y","type":"quantitative"}}},
{"data":{"values":[{"v":10},{"v":20},{"v":30},{"v":40},{"v":50},{"v":60},{"v":70},{"v":80}]},"mark":{"type":"rule","color":"#b0b0b0","strokeWidth":0.8},"encoding":{"x":{"field":"v","type":"quantitative"}}},
{"data":{"values":[{"v":-60},{"v":-40},{"v":-20},{"v":20},{"v":40}]},"mark":{"type":"rule","color":"#b0b0b0","strokeWidth":0.8},"encoding":{"y":{"field":"v","type":"quantitative"}}},
{"data":{"name":"pts"},"mark":{"type":"rule","color":"black","opacity":0.3,"strokeWidth":0.8},"encoding":{"y":{"field":"y","type":"quantitative"},"x":{"datum":0.76},"x2":{"datum":1.62}}},
{"data":{"values":[{"a":-27.5,"b":19.5,"o":1},{"a":19.5,"b":23,"o":0.75},{"a":23,"b":28,"o":0.4},{"a":-32,"b":-27.5,"o":0.7},{"a":-37,"b":-32,"o":0.3}]},"mark":{"type":"rect","color":"black"},"encoding":{"y":{"field":"a","type":"quantitative"},"y2":{"field":"b"},"x":{"datum":0.76},"x2":{"datum":1.62},"opacity":{"field":"o","type":"quantitative","scale":null,"legend":null}}},
{"data":{"name":"rugx"},"mark":{"type":"rule","color":"black","opacity":0.5,"strokeWidth":0.8},"encoding":{"x":{"field":"x","type":"quantitative"},"y":{"datum":-66.12},"y2":{"datum":-64.2}}},
{"data":{"values":[{"a":9.3,"b":83.3,"o":1},{"a":8.3,"b":9.3,"o":0.85},{"a":7.5,"b":8.3,"o":0.6}]},"mark":{"type":"rect","color":"black"},"encoding":{"x":{"field":"a","type":"quantitative"},"x2":{"field":"b"},"y":{"datum":-66.12},"y2":{"datum":-64.2},"opacity":{"field":"o","type":"quantitative","scale":null,"legend":null}}},
{"data":{"values":[{"v":0}]},"mark":{"type":"rule","color":"#0000ff","strokeWidth":2},"encoding":{"y":{"field":"v","type":"quantitative"}}}
]}
